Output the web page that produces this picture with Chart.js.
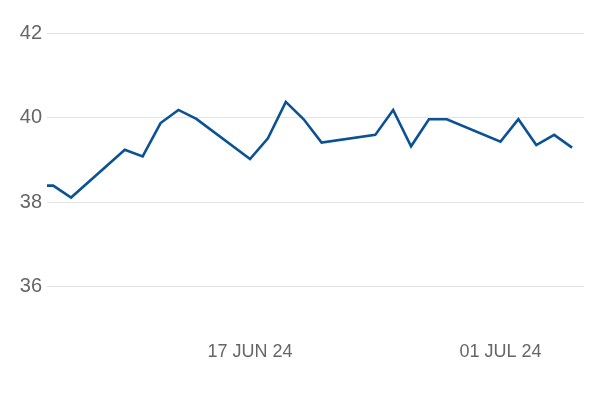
<!DOCTYPE html>
<html>
<head>
<meta charset="utf-8">
<script src="https://cdn.jsdelivr.net/npm/chart.js@4.4.1/dist/chart.umd.min.js"></script>
<style>
  html, body { margin: 0; padding: 0; background: #fff; }
  #wrap { width: 600px; height: 400px; }
</style>
</head>
<body>
<div id="wrap"><canvas id="grafico" width="600" height="400"></canvas></div>
<script>
// --- datos ---
const fechas = [
  '2024-06-05', '2024-06-06', '2024-06-07',
  '2024-06-10', '2024-06-11', '2024-06-12', '2024-06-13', '2024-06-14',
  '2024-06-17', '2024-06-18', '2024-06-19', '2024-06-20', '2024-06-21',
  '2024-06-24', '2024-06-25', '2024-06-26', '2024-06-27', '2024-06-28',
  '2024-07-01', '2024-07-02', '2024-07-03', '2024-07-04', '2024-07-05'
];
const valores = [
  38.39, 38.39, 38.11,
  39.24, 39.08, 39.87, 40.18, 39.97,
  39.02, 39.51, 40.37, 39.96, 39.41,
  39.59, 40.18, 39.32, 39.96, 39.96,
  39.43, 39.96, 39.35, 39.59, 39.29
];
const fechasEtiquetas = ['2024-06-17', '2024-07-01'];
const valoresEtiquetas = [36, 38, 40, 42];
const rangoFechas = ['2024-06-05T15:40', '2024-07-05T16:00'];
const rangoValores = [35, 42];

const MESES = ['JAN', 'FEB', 'MAR', 'APR', 'MAY', 'JUN', 'JUL', 'AUG', 'SEP', 'OCT', 'NOV', 'DEC'];
const DIA = 86400000;

function aDias(s) {
  return Date.parse(s + (s.length > 10 ? ':00Z' : 'T00:00:00Z')) / DIA;
}

function formatoFecha(d) {
  const f = new Date(Math.round(d * DIA));
  const dd = String(f.getUTCDate()).padStart(2, '0');
  const yy = String(f.getUTCFullYear()).slice(2);
  return dd + ' ' + MESES[f.getUTCMonth()] + ' ' + yy;
}

const puntos = fechas.map((f, i) => ({ x: aDias(f), y: valores[i] }));

new Chart(document.getElementById('grafico'), {
  type: 'line',
  data: {
    datasets: [{
      data: puntos,
      borderColor: '#0b5294',
      borderWidth: 2.6,
      pointRadius: 0,
      tension: 0,
      fill: false
    }]
  },
  options: {
    responsive: false,
    animation: false,
    layout: { padding: { top: 33, right: 16, left: 0, bottom: 0 } },
    plugins: { legend: { display: false }, tooltip: { enabled: false } },
    scales: {
      x: {
        type: 'linear',
        min: aDias(rangoFechas[0]),
        max: aDias(rangoFechas[1]),
        grid: { display: false },
        border: { display: false },
        afterBuildTicks: s => { s.ticks = fechasEtiquetas.map(f => ({ value: aDias(f) })); },
        afterFit: s => { s.height = 71; },
        ticks: {
          padding: 4,
          maxRotation: 0,
          color: '#666666',
          font: { family: 'Liberation Sans', size: 18 },
          callback: v => formatoFecha(v)
        }
      },
      y: {
        min: rangoValores[0],
        max: rangoValores[1],
        grid: { color: '#e3e3e3', lineWidth: 1, drawTicks: false },
        border: { display: false },
        afterBuildTicks: s => { s.ticks = valoresEtiquetas.map(v => ({ value: v })); },
        afterFit: s => { s.width = 47; },
        ticks: {
          padding: 5,
          color: '#666666',
          font: { family: 'Liberation Sans', size: 20 }
        }
      }
    }
  }
});
</script>
</body>
</html>
